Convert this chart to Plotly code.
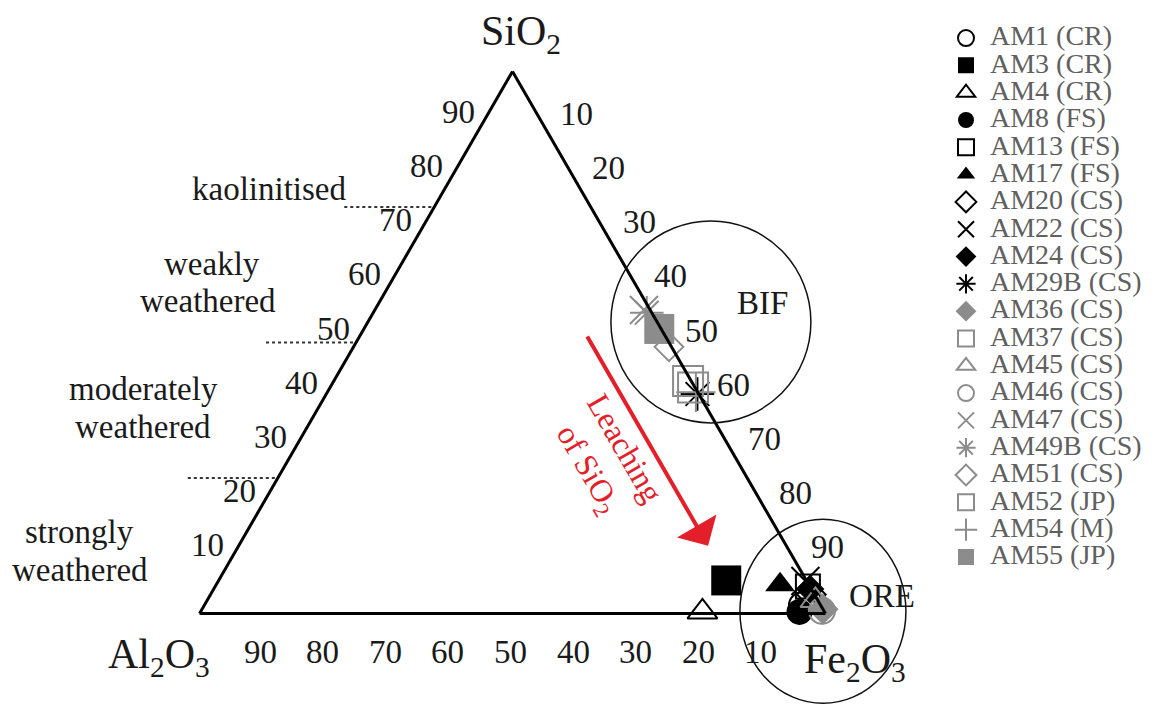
import math
import plotly.graph_objects as go

SERIF = "Liberation Serif, Times New Roman, serif"
W, H = 1153, 711

# ---- data: sample labels and oxide contents (wt%) ----
samples = ["AM1 (CR)", "AM3 (CR)", "AM4 (CR)", "AM8 (FS)", "AM13 (FS)", "AM17 (FS)",
           "AM20 (CS)", "AM22 (CS)", "AM24 (CS)", "AM29B (CS)", "AM36 (CS)", "AM37 (CS)",
           "AM45 (CS)", "AM46 (CS)", "AM47 (CS)", "AM49B (CS)", "AM51 (CS)", "AM52 (JP)",
           "AM54 (M)", "AM55 (JP)"]
sio2 = [1.5, 6.1, 0.3, 0.3, 5.0, 5.3, 3.5, 6.0, 4.5, 40.5,
        0.8, 42.9, 2.4, 0.5, 56.0, 55.5, 49.2, 41.7, 40.8, 52.5]
al2o3 = [3.0, 12.8, 19.5, 4.0, 0.3, 4.6, 0.5, 0.2, 0.2, 0.2,
         0.0, 0.5, 0.4, 0.3, 1.0, 0.8, 0.4, 0.3, 0.3, 0.3]
fe2o3 = [95.5, 81.1, 80.2, 95.7, 94.7, 90.1, 96.0, 93.8, 95.3, 59.3,
         99.2, 56.6, 97.2, 99.2, 43.0, 43.7, 50.4, 58.0, 58.9, 47.2]

tick_values = [10, 20, 30, 40, 50, 60, 70, 80, 90]
weathering_limits = [75, 50, 25]          # SiO2 boundaries of the weathering classes

# ---- marker styles ----
BLACK, GREY = "#000000", "#8c8c8c"
symbols = ["circle-open", "square", "triangle-up-open", "circle", "square-open", "triangle-up",
           "diamond-open", "x-thin-open", "diamond", "asterisk-open",
           "diamond", "square-open", "triangle-up-open", "circle-open", "x-thin-open",
           "asterisk-open", "diamond-open", "square-open", "cross-thin-open", "square"]
colors = [BLACK] * 10 + [GREY] * 10
sizes = [26, 30, 26, 26, 24, 26, 22, 28, 22, 28,
         24, 30, 26, 26, 28, 28, 22, 30, 28, 30]

# ---- ternary placement ----
DOM_X = [0.1445, 0.7445]
DOM_Y = [0.137125, 0.899435]
TRI_H = (DOM_Y[1] - DOM_Y[0]) * H
TRI_W = TRI_H * 2 / math.sqrt(3)
X_LEFT = W * (DOM_X[0] + DOM_X[1]) / 2 - TRI_W / 2
Y_TOP = H * (1 - (DOM_Y[0] + DOM_Y[1]) / 2) - TRI_H / 2


def tern_px(a, c):
    """pixel position of a composition (a = SiO2 %, c = Fe2O3 %)"""
    a, c = a / 100.0, c / 100.0
    return X_LEFT + (c + a / 2) * TRI_W, Y_TOP + (1 - a) * TRI_H


def paper(x, y):
    return x / W, 1 - y / H


fig = go.Figure()

for i, name in enumerate(samples):
    is_open = symbols[i].endswith("-open")
    fig.add_trace(go.Scatterternary(
        a=[sio2[i]], b=[al2o3[i]], c=[fe2o3[i]],
        mode="markers",
        name='<span style="font-size:28px">' + name + "</span>",
        marker=dict(symbol=symbols[i], size=sizes[i], color=colors[i],
                    line=dict(width=2 if is_open else 0, color=colors[i])),
        cliponaxis=False,
    ))


def tern_axis():
    return dict(
        min=0, showgrid=False, showline=True, linecolor="black", linewidth=3,
        ticks="", showticklabels=False, title=dict(text=""),
    )


shapes = []
# dotted class boundaries, running left from the Al2O3-SiO2 side
for lim in weathering_limits:
    x1, y1 = tern_px(lim, 0)
    x0 = x1 - 90
    p0, p1 = paper(x0, y1), paper(x1, y1)
    shapes.append(dict(type="line", xref="paper", yref="paper",
                       x0=p0[0], y0=p0[1], x1=p1[0], y1=p1[1],
                       line=dict(color="#333333", width=2, dash="dot")))

# BIF and ORE fields
fields = [("BIF", 53.8, 54.8, 100, 101), ("ORE", 0.4, 99.4, 83, 92)]
for _, fa, fc, rx, ry in fields:
    cx, cy = tern_px(fa, fc)
    p0, p1 = paper(cx - rx, cy + ry), paper(cx + rx, cy - ry)
    shapes.append(dict(type="circle", xref="paper", yref="paper",
                       x0=p0[0], y0=p0[1], x1=p1[0], y1=p1[1],
                       line=dict(color="#111111", width=1.5)))

annotations = []


def text_at(txt, x, y, size=33, color="#1a1a1a", **kw):
    px_, py_ = paper(x, y)
    annotations.append(dict(text=txt, x=px_, y=py_, xref="paper", yref="paper",
                            showarrow=False, xanchor="center", yanchor="middle",
                            font=dict(family=SERIF, size=size, color=color), **kw))


# scale labels along the three sides of the triangle
for v in tick_values:
    x, y = tern_px(v, 0)              # SiO2 scale on the left side
    text_at(str(v), x - 23, y - 14)
    x, y = tern_px(0, 100 - v)        # Al2O3 scale on the base
    text_at(str(v), x - 2, y + 38)
    x, y = tern_px(100 - v, v)        # Fe2O3 scale on the right side
    text_at(str(v), x + 33, y - 12)

# apex labels
text_at("SiO<sub>2</sub>", 521, 34, size=42)
text_at("Al<sub>2</sub>O<sub>3</sub>", 159, 657, size=42)
text_at("Fe<sub>2</sub>O<sub>3</sub>", 855, 662, size=42)

# weathering classes
text_at("kaolinitised", 269, 189)
text_at("weakly", 212, 264)
text_at("weathered", 208, 301)
text_at("moderately", 143, 389)
text_at("weathered", 143, 427)
text_at("strongly", 79, 532)
text_at("weathered", 80, 570)

# field names
text_at("BIF", 762, 303)
text_at("ORE", 882, 596)

# SiO2 leaching trend (constant Al2O3)
RED = "#e3202a"
tail = tern_px(51.4, 36.1)
tip = tern_px(12.5, 75.0)
tp = paper(*tip)
annotations.append(dict(x=tp[0], y=tp[1], ax=tail[0] - tip[0], ay=tail[1] - tip[1],
                        xref="paper", yref="paper", axref="pixel", ayref="pixel",
                        text="", showarrow=True,
                        arrowhead=1, arrowsize=1.9, arrowwidth=4, arrowcolor=RED))
text_at("Leaching<br>of SiO<sub>2</sub>", 605, 459, size=32, color=RED, textangle=60)

fig.update_layout(
    width=W, height=H,
    margin=dict(l=0, r=0, t=0, b=0, autoexpand=False),
    paper_bgcolor="white",
    ternary=dict(
        sum=100,
        domain=dict(x=DOM_X, y=DOM_Y),
        bgcolor="white",
        aaxis=tern_axis(),
        baxis=tern_axis(),
        caxis=tern_axis(),
    ),
    showlegend=True,
    legend=dict(
        x=942 / W, xanchor="left", y=1 - 19.4 / H, yanchor="top",
        font=dict(family=SERIF, size=18.7, color="#606060"),
        itemwidth=38, tracegroupgap=0, bgcolor="rgba(0,0,0,0)", borderwidth=0,
    ),
    shapes=shapes,
    annotations=annotations,
)

fig.write_html("out.html")
